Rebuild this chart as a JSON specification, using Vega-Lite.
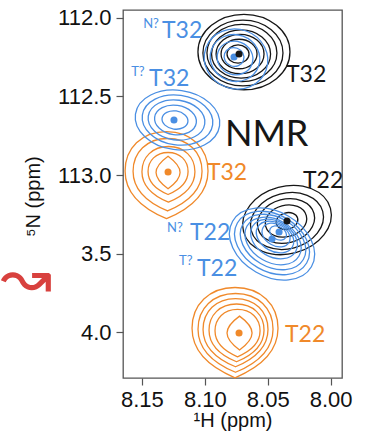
{
  "$schema": "https://vega.github.io/schema/vega-lite/v6.json",
  "autosize": "none",
  "width": 219,
  "height": 368,
  "padding": {"left": 123, "top": 10, "right": 30, "bottom": 57},
  "background": "white",
  "config": {
    "view": {"stroke": "#555555", "strokeWidth": 1.3},
    "axis": {"labelFont": "Liberation Sans", "titleFont": "Liberation Sans", "labelColor": "#111111", "titleColor": "#111111", "tickColor": "#555555", "tickWidth": 1.2, "grid": false, "domain": false, "titleFontWeight": "normal"}
  },
  "datasets": {
    "contours": [
      {"peak": "T32", "series": "NMR", "x": 8.0689, "y": 112.2171, "w": 0.0731},
      {"peak": "T32", "series": "NMR", "x": 8.0697, "y": 112.2234, "w": 0.0636},
      {"peak": "T32", "series": "NMR", "x": 8.0705, "y": 112.2234, "w": 0.0556},
      {"peak": "T32", "series": "NMR", "x": 8.0712, "y": 112.2298, "w": 0.0469},
      {"peak": "T32", "series": "NMR", "x": 8.0720, "y": 112.2298, "w": 0.0381},
      {"peak": "T32", "series": "NMR", "x": 8.0728, "y": 112.2298, "w": 0.0286},
      {"peak": "T32", "series": "NMR", "x": 8.0736, "y": 112.2298, "w": 0.0175},
      {"peak": "T22", "series": "NMR", "x": 8.0347, "y": 113.2854, "w": 0.0715},
      {"peak": "T22", "series": "NMR", "x": 8.0347, "y": 113.2917, "w": 0.0588},
      {"peak": "T22", "series": "NMR", "x": 8.0355, "y": 113.2917, "w": 0.0461},
      {"peak": "T22", "series": "NMR", "x": 8.0355, "y": 113.2917, "w": 0.0334},
      {"peak": "T22", "series": "NMR", "x": 8.0347, "y": 113.2917, "w": 0.0175},
      {"peak": "T32", "series": "N?", "x": 8.0752, "y": 112.2616, "w": 0.0509},
      {"peak": "T32", "series": "N?", "x": 8.0760, "y": 112.2552, "w": 0.0397},
      {"peak": "T32", "series": "N?", "x": 8.0760, "y": 112.2552, "w": 0.0286},
      {"peak": "T32", "series": "N?", "x": 8.0768, "y": 112.2489, "w": 0.0159},
      {"peak": "T32", "series": "T?", "x": 8.1217, "y": 112.6495, "w": 0.0675},
      {"peak": "T32", "series": "T?", "x": 8.1217, "y": 112.6495, "w": 0.0564},
      {"peak": "T32", "series": "T?", "x": 8.1225, "y": 112.6495, "w": 0.0453},
      {"peak": "T32", "series": "T?", "x": 8.1233, "y": 112.6495, "w": 0.0334},
      {"peak": "T32", "series": "T?", "x": 8.1237, "y": 112.6495, "w": 0.0207},
      {"peak": "T22", "series": "N?", "x": 8.0466, "y": 113.4380, "w": 0.0723},
      {"peak": "T22", "series": "N?", "x": 8.0466, "y": 113.4316, "w": 0.0636},
      {"peak": "T22", "series": "N?", "x": 8.0458, "y": 113.4253, "w": 0.0556},
      {"peak": "T22", "series": "N?", "x": 8.0458, "y": 113.4189, "w": 0.0477},
      {"peak": "T22", "series": "N?", "x": 8.0450, "y": 113.4062, "w": 0.0397},
      {"peak": "T22", "series": "N?", "x": 8.0442, "y": 113.3935, "w": 0.0318},
      {"peak": "T22", "series": "N?", "x": 8.0434, "y": 113.3808, "w": 0.0238},
      {"peak": "T22", "series": "N?", "x": 8.0418, "y": 113.3681, "w": 0.0143},
      {"peak": "T32", "series": "other", "x": 8.1304, "y": 112.9865, "w": 0.0659},
      {"peak": "T32", "series": "other", "x": 8.1296, "y": 112.9865, "w": 0.0548},
      {"peak": "T32", "series": "other", "x": 8.1289, "y": 112.9865, "w": 0.0421},
      {"peak": "T32", "series": "other", "x": 8.1292, "y": 112.9833, "w": 0.0318},
      {"peak": "T32", "series": "other", "x": 8.1292, "y": 112.9833, "w": 0.0191},
      {"peak": "T22", "series": "other", "x": 8.0760, "y": 113.9880, "w": 0.0683},
      {"peak": "T22", "series": "other", "x": 8.0756, "y": 113.9912, "w": 0.0596},
      {"peak": "T22", "series": "other", "x": 8.0756, "y": 113.9912, "w": 0.0516},
      {"peak": "T22", "series": "other", "x": 8.0748, "y": 113.9944, "w": 0.0437},
      {"peak": "T22", "series": "other", "x": 8.0740, "y": 113.9975, "w": 0.0358},
      {"peak": "T22", "series": "other", "x": 8.0724, "y": 114.0039, "w": 0.0199}
    ],
    "peaks": [
      {"peak": "T32", "series": "N?", "x": 8.0768, "y": 112.249},
      {"peak": "T32", "series": "T?", "x": 8.1245, "y": 112.6495},
      {"peak": "T32", "series": "other", "x": 8.1292, "y": 112.980},
      {"peak": "T22", "series": "N?", "x": 8.0410, "y": 113.362},
      {"peak": "T22", "series": "T?", "x": 8.0466, "y": 113.406},
      {"peak": "T22", "series": "other", "x": 8.0728, "y": 114.004},
      {"peak": "T32", "series": "NMR", "x": 8.0728, "y": 112.230},
      {"peak": "T22", "series": "NMR", "x": 8.0347, "y": 113.292}
    ],
    "labels": [
      {"text": "T32", "series": "N?", "role": "main", "x": 8.1340, "y": 112.125},
      {"text": "N?", "series": "N?", "role": "sup", "x": 8.1490, "y": 112.064},
      {"text": "T32", "series": "NMR", "role": "main", "x": 8.0355, "y": 112.408},
      {"text": "T32", "series": "T?", "role": "main", "x": 8.1443, "y": 112.433},
      {"text": "T?", "series": "T?", "role": "sup", "x": 8.1585, "y": 112.370},
      {"text": "NMR", "series": "NMR", "role": "panel", "x": 8.0840, "y": 112.815},
      {"text": "T32", "series": "other", "role": "main", "x": 8.0983, "y": 113.031},
      {"text": "T22", "series": "NMR", "role": "main", "x": 8.0220, "y": 113.082},
      {"text": "T22", "series": "N?", "role": "main", "x": 8.1118, "y": 113.4126},
      {"text": "N?", "series": "N?", "role": "sup", "x": 8.1300, "y": 113.362},
      {"text": "T22", "series": "T?", "role": "main", "x": 8.1062, "y": 113.6415},
      {"text": "T?", "series": "T?", "role": "sup", "x": 8.1205, "y": 113.5715},
      {"text": "T22", "series": "other", "role": "main", "x": 8.0363, "y": 114.061}
    ],
    "marks": [
      {"text": "↝", "x": 8.2421, "y": 113.660}
    ]
  },
  "encoding": {
    "x": {"field": "x", "type": "quantitative",
      "scale": {"domain": [7.991, 8.165], "reverse": true, "zero": false, "nice": false},
      "axis": {"title": "¹H (ppm)", "values": [8.15, 8.1, 8.05, 8.0], "format": ".2f", "labelFontSize": 22, "titleFontSize": 20, "tickSize": 7, "labelPadding": 4, "titleBaseline": "alphabetic", "titleY": 48}},
    "y": {"field": "y", "type": "quantitative",
      "scale": {"domain": [111.95, 114.29], "reverse": true, "zero": false, "nice": false},
      "axis": {"title": "⁵N (ppm)", "values": [112, 112.5, 113, 113.5, 114], "labelExpr": "datum.value == 113.5 ? '3.5' : datum.value == 114 ? '4.0' : format(datum.value, '.1f')", "labelFontSize": 22, "titleFontSize": 20, "tickSize": 7, "labelPadding": 5, "titleAngle": -90, "titleAlign": "center", "titleBaseline": "alphabetic", "titleX": -84, "titleY": 186}}
  },
  "layer": [
    {
      "data": {"name": "contours"},
      "transform": [{"filter": "datum.series === 'other' && datum.w >= 0.025"}],
      "mark": {"type": "point", "filled": false, "strokeWidth": 1.3, "opacity": 1, "shape": "M0,-1 C0.6,-1 1,-0.6 1,-0.05 C1,0.5 0.6,0.85 0,1.1 C-0.6,0.85 -1,0.5 -1,-0.05 C-1,-0.6 -0.6,-1 0,-1 Z"},
      "encoding": {
        "color": {"field": "series", "type": "nominal", "scale": {"domain": ["NMR", "N?", "T?", "other"], "range": ["#161616", "#4a8fe3", "#4a8fe3", "#f0892a"]}, "legend": null},
        "size": {"field": "w", "type": "quantitative", "scale": {"type": "pow", "exponent": 2, "domain": [0, 0.1], "range": [0, 15841]}, "legend": null}}
    },
    {
      "data": {"name": "contours"},
      "transform": [{"filter": "datum.series === 'other' && datum.w < 0.025"}],
      "mark": {"type": "point", "filled": false, "strokeWidth": 1.3, "opacity": 1, "shape": "M0,-1.35 C0.55,-0.95 1,-0.45 1,0 C1,0.45 0.55,0.95 0,1.35 C-0.55,0.95 -1,0.45 -1,0 C-1,-0.45 -0.55,-0.95 0,-1.35 Z"},
      "encoding": {
        "color": {"field": "series", "type": "nominal", "legend": null},
        "size": {"field": "w", "type": "quantitative", "scale": {"type": "pow", "exponent": 2, "domain": [0, 0.1], "range": [0, 15841]}, "legend": null}}
    },
    {
      "data": {"name": "contours"},
      "transform": [{"filter": "datum.series === 'NMR' && datum.peak === 'T32'"}],
      "mark": {"type": "point", "filled": false, "strokeWidth": 1.3, "opacity": 1, "shape": "M-1,0C-1,-0.451 -0.552,-0.82 0,-0.82C0.552,-0.82 1,-0.451 1,0C1,0.451 0.552,0.82 0,0.82C-0.552,0.82 -1,0.451 -1,0Z"},
      "encoding": {
        "color": {"field": "series", "type": "nominal", "legend": null},
        "size": {"field": "w", "type": "quantitative", "scale": {"type": "pow", "exponent": 2, "domain": [0, 0.1], "range": [0, 15841]}, "legend": null}}
    },
    {
      "data": {"name": "contours"},
      "transform": [{"filter": "datum.series === 'NMR' && datum.peak === 'T22'"}],
      "mark": {"type": "point", "filled": false, "strokeWidth": 1.3, "opacity": 1, "angle": -15, "shape": "M-1,0C-1,-0.414 -0.552,-0.75 0,-0.75C0.552,-0.75 1,-0.414 1,0C1,0.414 0.552,0.75 0,0.75C-0.552,0.75 -1,0.414 -1,0Z"},
      "encoding": {
        "color": {"field": "series", "type": "nominal", "legend": null},
        "size": {"field": "w", "type": "quantitative", "scale": {"type": "pow", "exponent": 2, "domain": [0, 0.1], "range": [0, 15841]}, "legend": null}}
    },
    {
      "data": {"name": "contours"},
      "transform": [{"filter": "datum.series === 'N?' && datum.peak === 'T32'"}],
      "mark": {"type": "point", "filled": false, "strokeWidth": 1.3, "opacity": 1, "angle": 20, "shape": "M-1,0C-1,-0.514 -0.552,-0.93 0,-0.93C0.552,-0.93 1,-0.514 1,0C1,0.514 0.552,0.93 0,0.93C-0.552,0.93 -1,0.514 -1,0Z"},
      "encoding": {
        "color": {"field": "series", "type": "nominal", "legend": null},
        "size": {"field": "w", "type": "quantitative", "scale": {"type": "pow", "exponent": 2, "domain": [0, 0.1], "range": [0, 15841]}, "legend": null}}
    },
    {
      "data": {"name": "contours"},
      "transform": [{"filter": "datum.series === 'T?' && datum.peak === 'T32'"}],
      "mark": {"type": "point", "filled": false, "strokeWidth": 1.3, "opacity": 1, "angle": 8, "shape": "M-1,0C-1,-0.387 -0.552,-0.7 0,-0.7C0.552,-0.7 1,-0.387 1,0C1,0.387 0.552,0.7 0,0.7C-0.552,0.7 -1,0.387 -1,0Z"},
      "encoding": {
        "color": {"field": "series", "type": "nominal", "legend": null},
        "size": {"field": "w", "type": "quantitative", "scale": {"type": "pow", "exponent": 2, "domain": [0, 0.1], "range": [0, 15841]}, "legend": null}}
    },
    {
      "data": {"name": "contours"},
      "transform": [{"filter": "datum.series === 'N?' && datum.peak === 'T22'"}],
      "mark": {"type": "point", "filled": false, "strokeWidth": 1.3, "opacity": 1, "angle": 30, "shape": "M-1,0C-1,-0.392 -0.552,-0.71 0,-0.71C0.552,-0.71 1,-0.392 1,0C1,0.392 0.552,0.71 0,0.71C-0.552,0.71 -1,0.392 -1,0Z"},
      "encoding": {
        "color": {"field": "series", "type": "nominal", "legend": null},
        "size": {"field": "w", "type": "quantitative", "scale": {"type": "pow", "exponent": 2, "domain": [0, 0.1], "range": [0, 15841]}, "legend": null}}
    },
    {
      "data": {"name": "peaks"},
      "mark": {"type": "point", "filled": true, "shape": "circle", "size": 50, "opacity": 1},
      "encoding": {"color": {"field": "series", "type": "nominal", "legend": null}}
    },
    {
      "data": {"name": "labels"},
      "transform": [{"filter": "datum.role === 'main'"}],
      "mark": {"type": "text", "font": "Lato", "fontSize": 23, "align": "left", "baseline": "alphabetic"},
      "encoding": {"text": {"field": "text"}, "color": {"field": "series", "type": "nominal", "legend": null}}
    },
    {
      "data": {"name": "labels"},
      "transform": [{"filter": "datum.role === 'sup'"}],
      "mark": {"type": "text", "font": "Lato", "fontSize": 13, "align": "left", "baseline": "alphabetic"},
      "encoding": {"text": {"field": "text"}, "color": {"field": "series", "type": "nominal", "legend": null}}
    },
    {
      "data": {"name": "labels"},
      "transform": [{"filter": "datum.role === 'panel'"}],
      "mark": {"type": "text", "font": "Lato", "fontSize": 36, "align": "left", "baseline": "alphabetic"},
      "encoding": {"text": {"field": "text"}, "color": {"field": "series", "type": "nominal", "legend": null}}
    },
    {
      "data": {"name": "marks"},
      "mark": {"type": "text", "font": "DejaVu Sans", "fontSize": 62, "align": "center", "baseline": "middle", "color": "#d42d2a", "opacity": 0.9, "clip": false},
      "encoding": {"text": {"field": "text"}}
    }
  ]
}
